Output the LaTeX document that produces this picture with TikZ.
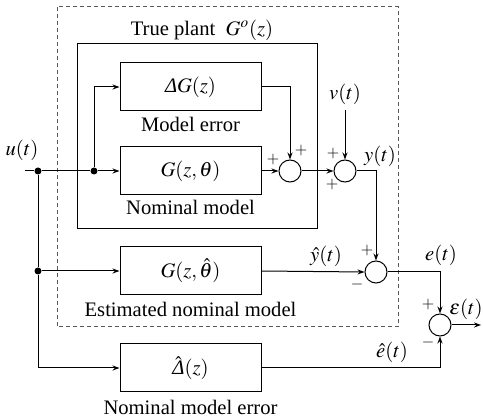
\documentclass[tikz,border=0pt]{standalone}
\usepackage{amsmath}
\usepackage{mathptmx}
\usepackage{fontspec}
\setmainfont{Liberation Serif}
\usetikzlibrary{arrows.meta}
\newcommand{\itDelta}{\mbox{\itshape Δ}}
\begin{document}
\begin{tikzpicture}[x=0.5pt,y=-0.5pt,
  font=\fontsize{10.3}{12}\selectfont,
  line width=0.5pt,
  blk/.style={draw,minimum width=70.5pt,minimum height=24pt,inner sep=0pt},
  sumc/.style={draw,circle,minimum size=11pt,inner sep=0pt},
  dot/.style={circle,fill,minimum size=3.5pt,inner sep=0pt},
  arr/.style={-{Stealth[length=3.5pt,width=2.5pt]}},
  sgn/.style={font=\fontsize{8}{9}\selectfont,inner sep=0pt},
  lbl/.style={inner sep=0pt}]
\useasboundingbox (0,0) rectangle (483,417);
% frames
\draw[dash pattern=on 2pt off 1.5pt,gray!70!black] (57,7) rectangle (398,327);
\draw (77,44) rectangle (317,229);
\node[lbl] (tp) at (202,30) {True plant\ \ $G^o(z)$};
% blocks
\node[blk] (dg) at (190.5,87) {$\itDelta G(z)$};
\node[lbl] (dgl) at (190.5,124) {Model error};
\node[blk] (g) at (190.5,171) {$G(z,\theta)$};
\node[lbl] (gl) at (190.5,207) {Nominal model};
\node[blk] (gh) at (190.5,271) {$G(z,\hat{\theta})$};
\node[lbl] (ghl) at (190.5,309) {Estimated nominal model};
\node[blk] (dh) at (190.5,368) {$\hat{\itDelta}(z)$};
\node[lbl] (dhl) at (190.5,407) {Nominal model error};
% sums
\node[sumc] (s1) at (290,171) {};
\node[sumc] (s2) at (345,171) {};
\node[sumc] (s3) at (376,272) {};
\node[sumc] (s4) at (440,325) {};
% dots and coordinates
\coordinate (uin) at (25,171);
\node[dot] (d1) at (38,171) {};
\node[dot] (d2) at (94,171) {};
\node[dot] (d3) at (38,271) {};
\coordinate (vin) at (345,110);
\coordinate (eout) at (481,325);
% labels
\node[lbl] (ul) at (22,150) {$\boldsymbol{u}(t)$};
\node[lbl] (vl) at (345,94) {$v(t)$};
\node[lbl] (yl) at (380,156) {$y(t)$};
\node[lbl] (yhl) at (326,256) {$\hat{y}(t)$};
\node[lbl] (el) at (441,255) {$e(t)$};
\node[lbl] (epl) at (466,309) {$\varepsilon(t)$};
\node[lbl] (ehl) at (392,352) {$\hat{e}(t)$};
\node[sgn] (p1) at (273,160) {$+$};
\node[sgn] (p2) at (301,151) {$+$};
\node[sgn] (p3) at (333,154) {$+$};
\node[sgn] (p4) at (332,185) {$+$};
\node[sgn] (p5) at (367,251) {$+$};
\node[sgn] (m5) at (357,285) {$-$};
\node[sgn] (p6) at (428,305) {$+$};
\node[sgn] (m6) at (428,343) {$-$};
% connectors
\draw (uin) -- (d1) -- (d2);
\draw[arr] (d2) -- (g.west);
\draw[arr] (d2) |- (dg.west);
\draw (d1) -- (d3);
\draw[arr] (d3) -- (gh.west);
\draw[arr] (d3) |- (dh.west);
\draw[arr] (dg.east) -| (s1.north);
\draw[arr] (g.east) -- (s1.west);
\draw[arr] (s1.east) -- (s2.west);
\draw[arr] (vin) -- (s2.north);
\draw[arr] (s2.east) -| (s3.north);
\draw[arr] (gh.east) -- (s3.west);
\draw[arr] (s3.east) -| (s4.north);
\draw[arr] (dh.east) -| (s4.south);
\draw[arr] (s4.east) -- (eout);
\end{tikzpicture}
\end{document}
